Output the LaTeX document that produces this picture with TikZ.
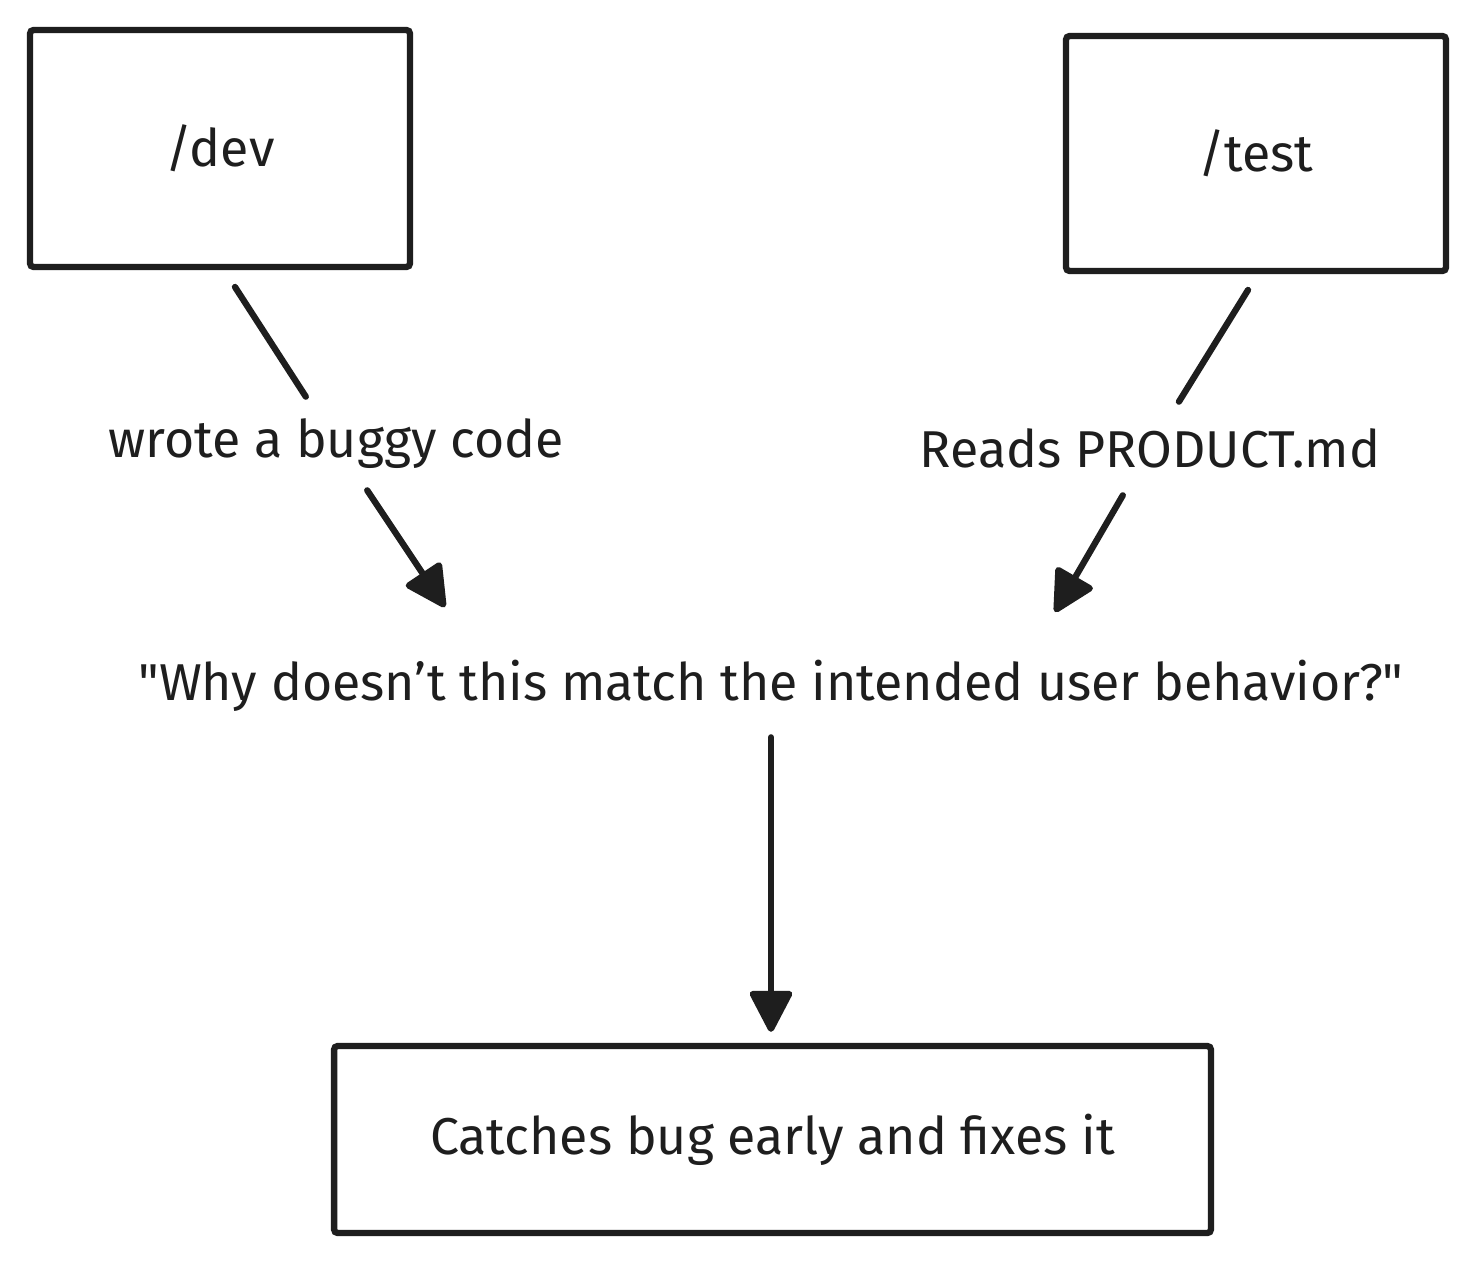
\documentclass[tikz,border=0pt]{standalone}
\usepackage{fontspec}
\newfontfamily\hand{Fira Sans}
\usetikzlibrary{arrows.meta}
\definecolor{ink}{HTML}{1E1E1E}
\begin{document}
\begin{tikzpicture}[x=0.02cm,y=-0.02cm,
  lab/.style={text=ink, inner sep=0pt, font=\hand\fontsize{29.5}{34}\selectfont},
  box/.style={lab, draw=ink, line width=3.6pt, rounded corners=2pt},
  conn/.style={draw=ink, line width=3.6pt, line cap=round},
  arr/.style={conn, -{Triangle[length=0.9cm,width=0.9cm,round]}}]
\useasboundingbox[fill=white] (0,0) rectangle (1476,1264);
\node[box, minimum width=7.6cm, minimum height=4.74cm] (dev) at (220,148.5) {/dev};
\node[box, minimum width=7.6cm, minimum height=4.7cm] (test) at (1256,153.5) {/test};
\node[box, minimum width=17.54cm, minimum height=3.74cm] (fix) at (772.5,1139.5) {Catches bug early and fixes it};
\node[lab, minimum height=1.86cm] (l1) at (336,443.5) {wrote a buggy code};
\node[lab, minimum height=1.86cm] (l2) at (1150,448.5) {Reads PRODUCT.md};
\node[lab, minimum height=2.04cm] (q) at (771,686) {"Why doesn’t this match the intended user behavior?"};
\coordinate (a1s) at (235,287);
\coordinate (a1e) at (445,607);
\coordinate (a2s) at (1248,290);
\coordinate (a2e) at (1055,612);
\draw[conn] (a1s) -- (l1);
\draw[arr] (l1) -- (a1e);
\draw[conn] (a2s) -- (l2);
\draw[arr] (l2) -- (a2e);
\draw[arr, shorten >=0.22cm] (q.south) -- (q.south |- fix.north);
\end{tikzpicture}
\end{document}
